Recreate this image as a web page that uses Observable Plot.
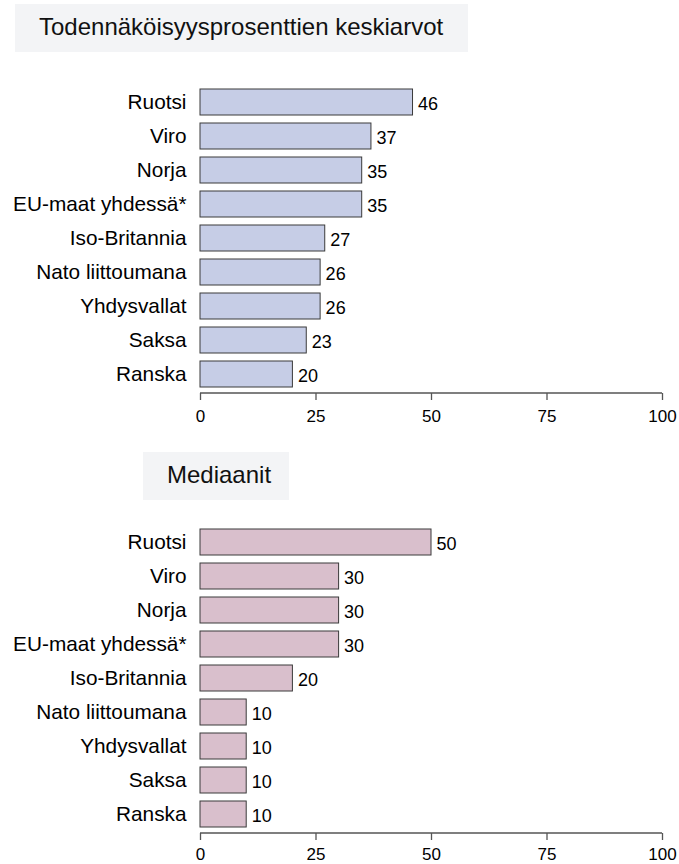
<!DOCTYPE html>
<html>
<head>
<meta charset="utf-8">
<script src="https://cdn.jsdelivr.net/npm/d3@7"></script>
<script src="https://cdn.jsdelivr.net/npm/@observablehq/plot@0.6"></script>
<style>
  html, body { margin: 0; padding: 0; background: #fff; overflow: hidden; }
  #wrap { position: relative; width: 679px; height: 864px; overflow: hidden; font-family: "Liberation Sans", Arial, sans-serif; }
  .title { position: absolute; background: #f3f4f6; height: 48px; line-height: 46px; font-size: 24px; color: #111; padding: 0 24px; box-sizing: border-box; white-space: nowrap; }
  .panel { position: absolute; left: 0; }
  .panel svg { overflow: visible; }
</style>
</head>
<body>
<div id="wrap">
  <div class="title" id="t1" style="left:15px; top:4px; width:453px;">Todennäköisyysprosenttien keskiarvot</div>
  <div class="panel" id="p1" style="top:60px;"></div>
  <div class="title" id="t2" style="left:143px; top:452px; width:146px;">Mediaanit</div>
  <div class="panel" id="p2" style="top:500px;"></div>
</div>
<script>
const categories = ["Ruotsi", "Viro", "Norja", "EU-maat yhdessä*", "Iso-Britannia", "Nato liittoumana", "Yhdysvallat", "Saksa", "Ranska"];
const meanValues = [46, 37, 35, 35, 27, 26, 26, 23, 20];
const medianValues = [50, 30, 30, 30, 20, 10, 10, 10, 10];
const xTicks = [0, 25, 50, 75, 100];

function panel(values, fillColor, h, tickPad) {
  const data = categories.map((c, i) => ({category: c, value: values[i]}));
  const axisLine = (index, scales, vals, dims) => {
    const y = dims.height - dims.marginBottom;
    return d3.create("svg:line")
      .attr("x1", scales.x(xTicks[0])).attr("x2", scales.x(xTicks[xTicks.length - 1]))
      .attr("y1", y).attr("y2", y)
      .attr("stroke", "#555").attr("stroke-width", 1.3)
      .node();
  };
  return Plot.plot({
    width: 679,
    height: h,
    marginLeft: 200,
    marginRight: 17,
    marginTop: 23,
    marginBottom: h - 333,
    style: {fontFamily: "'Liberation Sans', Arial, sans-serif", color: "black", background: "transparent"},
    x: {domain: [0, 100]},
    y: {domain: categories, paddingInner: 0.233, paddingOuter: 0.133},
    marks: [
      Plot.barX(data, {x: "value", y: "category", fill: fillColor, stroke: "#3a3a3a", strokeWidth: 1}),
      Plot.text(data, {x: "value", y: "category", text: d => String(d.value), textAnchor: "start", dx: 5, dy: 2, fontSize: 18, fill: "black"}),
      Plot.axisY({tickSize: 0, tickPadding: 14, fontSize: 20.8, fill: "black", label: null}),
      Plot.axisX({ticks: xTicks, tickSize: 7, tickPadding: tickPad, fontSize: 17, stroke: "#555", strokeWidth: 1.3, fill: "black", label: null, tickFormat: d => String(d)}),
      axisLine
    ]
  });
}

document.getElementById("p1").appendChild(panel(meanValues, "#c6cde6", 380, 9));
document.getElementById("p2").appendChild(panel(medianValues, "#d9bfcc", 364, 7.5));
</script>
</body>
</html>
